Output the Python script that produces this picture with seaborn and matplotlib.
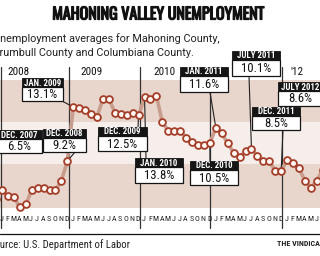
import matplotlib
matplotlib.use("Agg")
import matplotlib.pyplot as plt
import matplotlib.patheffects as pe
import seaborn as sns
import pandas as pd
from matplotlib.patches import Rectangle

# ---------------- data ----------------
rate_2007 = [6.5]                                   # Dec 2007
rate_2008 = [7.1, 6.7, 6.6, 5.9, 6.1, 7.1, 7.3, 7.3, 7.1, 7.1, 7.8, 9.2]
rate_2009 = [13.1, 13.0, 12.9, 12.6, 12.4, 13.7, 13.7, 12.7, 12.6, 12.5, 12.7, 12.5]
rate_2010 = [13.8, 13.7, 13.9, 12.0, 11.4, 11.4, 11.4, 10.9, 10.55, 10.4, 10.4, 10.5]
rate_2011 = [11.6, 11.2, 10.5, 9.8, 9.5, 9.9, 10.1, 9.6, 9.2, 9.2, 8.5, 8.5]
rate_2012 = [9.3, 9.1, 8.7, 7.8, 7.3, 7.8, 8.6]     # Jan-Jul 2012
rates = rate_2007 + rate_2008 + rate_2009 + rate_2010 + rate_2011 + rate_2012
months = list(range(-1, len(rates) - 1))            # 0 = Jan 2008

year_labels = ["2008", "2009", "2010", "'12"]
month_letters = list("JFMAMJJASOND")

callout_headers = ["DEC. 2007", "DEC. 2008", "JAN. 2009", "DEC. 2009", "JAN. 2010",
                   "DEC. 2010", "JAN. 2011", "JULY 2011", "DEC. 2011", "JULY 2012"]
callout_values = ["6.5%", "9.2%", "13.1%", "12.5%", "13.8%",
                  "10.5%", "11.6%", "10.1%", "8.5%", "8.6%"]
callout_month = [-1, 11, 12, 23, 24, 35, 36, 42, 47, 54]

# ---------------- layout helpers (pixels) ----------------
W, H = 320, 256
def P(x, y):
    return (x / W, 1 - y / H)

# box: left, right, top, bottom (px); pointer start (px)
box_geom = [(-4, 42, 130, 153), (43, 86, 129, 152), (22, 63, 78, 101),
            (98, 147, 127, 151), (135, 183, 158, 183), (190, 238, 161, 185),
            (180, 228, 67, 92), (232, 280, 51, 76), (252, 300, 107, 130),
            (278, 322, 82, 106)]
pointer_start = [(3, 153), (75, 152), (62, 101), (138, 127), (146, 158),
                 (210, 161), (210, 92), (249, 76), (283, 130), (305, 106)]

pink = "#e8d5cc"
light = "#f5eeea"
line_col = "#c99d8d"
edge_col = "#a53e28"

sns.set_theme(style="white")
cond = ["Roboto Condensed", "DejaVu Sans"]
plt.rcParams["font.family"] = cond

fig = plt.figure(figsize=(3.2, 2.56), dpi=100)
ax = fig.add_axes([0, 0, 1, 1])

# background bands
ax.axhspan(12, 15.04, color=pink, zorder=0, lw=0)
ax.axhspan(9, 12, color=light, zorder=0, lw=0)
ax.axhspan(5.83, 9, color=pink, zorder=0, lw=0)

# year dividers
for xd in [-0.25, 11.2, 23.2, 35.05, 47.1]:
    ax.axvline(xd, ymin=1 - 228 / H, ymax=1 - 67 / H, color="#333333", lw=0.9, zorder=1)

# year labels
for lab, px in zip(year_labels, [7, 80, 153, 290]):
    ax.text(*P(px, 72), lab, transform=ax.transAxes, ha="left", va="center",
            fontsize=8, color="#111111", family=cond)

# month letters
xt = ax.get_xaxis_transform()
for yr in range(5):
    for i, L in enumerate(month_letters):
        m = yr * 12 + i
        if m > 53:
            break
        ax.text(m - 0.1, 1 - 219 / H, L, transform=xt, ha="center", va="center",
                fontsize=5.8, color="#222222", family=cond)

# data line + markers
df = pd.DataFrame({"month": months, "rate": rates})
sns.lineplot(data=df, x="month", y="rate", color=line_col, lw=2.6, ax=ax,
             zorder=2, legend=False)
sns.scatterplot(data=df, x="month", y="rate", s=24, color="#fdf6f2",
                edgecolor=edge_col, linewidth=1.3, ax=ax, zorder=3, legend=False)
ax.set_xlim(-0.337, 53.54)
ax.set_ylim(2.38, 20.80)
ax.axis("off")

# callouts
for hdr, val, m, (l, r, t, b), (sx, sy) in zip(callout_headers, callout_values,
                                              callout_month, box_geom, pointer_start):
    v = rates[m + 1]
    ax.annotate("", xy=(m, v), xycoords="data", xytext=P(sx, sy),
                textcoords="axes fraction",
                arrowprops=dict(arrowstyle="-", color="#222222", lw=0.8,
                                shrinkA=0, shrinkB=0), zorder=2.5)
    hh = 9
    x0, y0 = P(l, t + hh)
    ax.add_patch(Rectangle((x0, y0), (r - l) / W, hh / H, transform=ax.transAxes,
                           facecolor="#151515", edgecolor="#151515", lw=0.6,
                           zorder=5, clip_on=False))
    x1, y1 = P(l, b)
    ax.add_patch(Rectangle((x1, y1), (r - l) / W, (b - t - hh) / H,
                           transform=ax.transAxes, facecolor="white",
                           edgecolor="#151515", lw=0.9, zorder=5, clip_on=False))
    cx = (l + r) / 2
    ax.text(*P(cx, t + hh / 2 + 0.5), hdr, transform=ax.transAxes, ha="center",
            va="center", fontsize=6.4, fontweight="bold", color="white",
            zorder=6, family=cond)
    ax.text(*P(cx, (t + hh + b) / 2 + 0.5), val, transform=ax.transAxes,
            ha="center", va="center", fontsize=9.2, color="#111111", zorder=6,
            family=cond)

# titles
fig.text(*P(158, 15), "MAHONING VALLEY UNEMPLOYMENT", ha="center", va="center",
         fontsize=11.5, fontweight="bold", color="#111111",
         family=["Oswald", "Roboto Condensed", "DejaVu Sans"],
         path_effects=[pe.withStroke(linewidth=0.9, foreground="#111111")])
fig.text(*P(-7, 39), "Unemployment averages for Mahoning County,", ha="left",
         va="center", fontsize=7.8, color="#222222", family=["Roboto", "DejaVu Sans"])
fig.text(*P(-7, 53), "Trumbull County and Columbiana County.", ha="left",
         va="center", fontsize=7.8, color="#222222", family=["Roboto", "DejaVu Sans"])

# bottom rule + credits
ax.axhline(13.1 - (234 - 107) / 13.9, color="#111111", lw=0.9, zorder=1)
fig.text(*P(-11, 245), "Source: U.S. Department of Labor", ha="left", va="center",
         fontsize=7.7, color="#222222", family=cond)
fig.text(*P(277, 243), "THE VINDICATOR", ha="left", va="center",
         fontsize=5.8, fontweight="bold", color="#222222", family=cond)

fig.savefig("out.png", dpi=100)
